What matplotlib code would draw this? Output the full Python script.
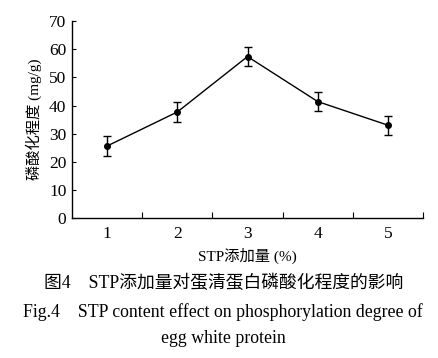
import numpy as np
import matplotlib.pyplot as plt

plt.rcParams['font.family'] = ['Liberation Serif', 'Noto Sans CJK SC']
plt.rcParams['mathtext.fontset'] = 'stix'

# data
stp = [1, 2, 3, 4, 5]
degree = [25.6, 37.7, 57.4, 41.4, 33.0]
err = [3.5, 3.4, 3.4, 3.5, 3.4]

fig = plt.figure(figsize=(4.38, 3.58), dpi=100)
ax = fig.add_axes([0.1644, 0.391, 0.8014, 0.55])

ax.errorbar(stp, degree, yerr=err, color='black', marker='o', markersize=4,
            linewidth=1.0, elinewidth=1.0, capsize=3, capthick=1.0)

ax.set_xlim(0.5, 5.5)
ax.set_ylim(0, 70)
ax.set_yticks(np.arange(0, 71, 10))
ax.set_xticks(stp)
ax.set_xticks([1.5, 2.5, 3.5, 4.5, 5.5], minor=True)
ax.tick_params(axis='x', which='major', length=0, labelsize=12.5, pad=6)
ax.tick_params(axis='x', which='minor', direction='in', length=4, width=0.8)
ax.tick_params(axis='y', direction='in', length=3, width=0.8, labelsize=12.5, pad=4)
for s in ['top', 'right']:
    ax.spines[s].set_visible(False)
for s in ['left', 'bottom']:
    ax.spines[s].set_linewidth(1.0)

ax.set_ylabel('磷酸化程度 (mg/g)', fontsize=11, labelpad=5)
ax.set_xlabel('STP添加量 (%)', fontsize=11, labelpad=4)

fig.text(0.51, 0.208, '图4    STP添加量对蛋清蛋白磷酸化程度的影响', ha='center', va='center', fontsize=12.8)
fig.text(0.508, 0.128, 'Fig.4    STP content effect on phosphorylation degree of', ha='center', va='center', fontsize=12.8)
fig.text(0.51, 0.055, 'egg white protein', ha='center', va='center', fontsize=12.8)

fig.savefig('out.png', dpi=100)
